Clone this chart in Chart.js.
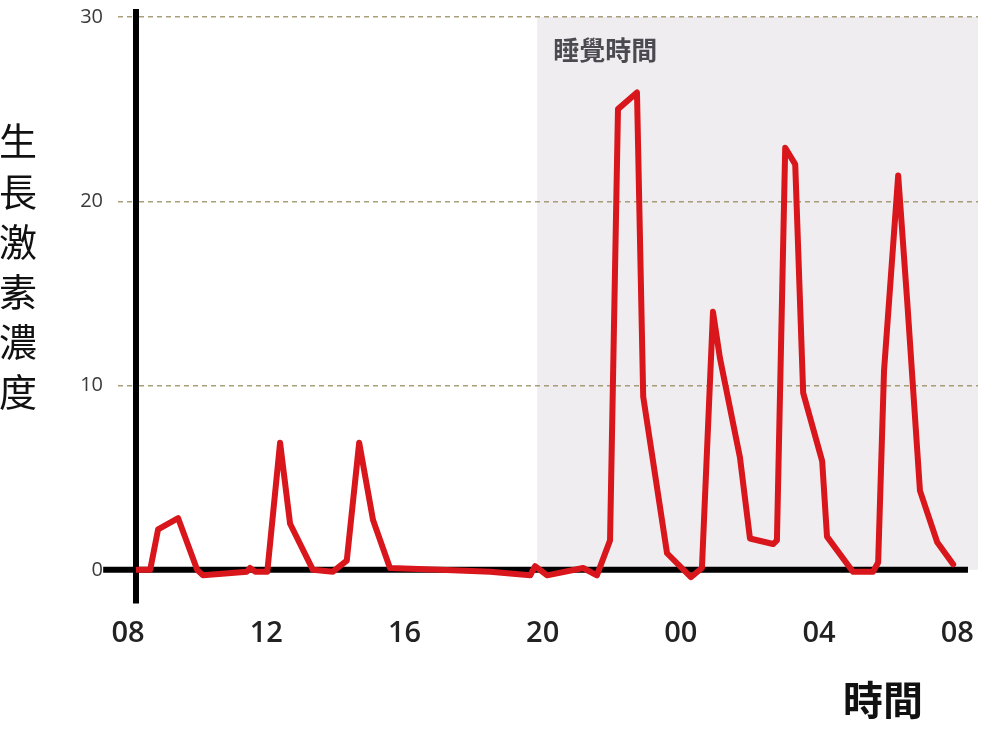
<!DOCTYPE html>
<html>
<head>
<meta charset="utf-8">
<script src="https://cdn.jsdelivr.net/npm/chart.js@4.4.1/dist/chart.umd.min.js"></script>
<style>
  html, body { margin: 0; padding: 0; background: #ffffff; }
  #wrap { width: 1000px; height: 735px; }
</style>
</head>
<body>
<div id="wrap"><canvas id="c" width="1000" height="735"></canvas></div>
<script>
// ---- data (hours after 08:00, growth-hormone level) ----
const hours = [0.26,0.64,0.87,1.45,2.00,2.17,2.81,3.44,3.53,3.68,4.03,4.40,4.69,5.35,5.93,6.33,6.69,7.09,7.58,9.03,10.48,11.64,11.78,12.13,13.17,13.57,13.95,14.18,14.73,14.91,15.60,16.29,16.61,16.93,17.13,17.71,18.00,18.67,18.78,19.02,19.31,19.54,20.09,20.23,20.98,21.56,21.71,21.88,22.29,22.55,22.92,23.42,23.88];
const values = [0,0,2.2,2.8,0,-0.3,-0.2,-0.1,0.1,-0.1,-0.1,6.9,2.5,0,-0.1,0.5,6.9,2.7,0.1,0,-0.1,-0.3,0.2,-0.3,0.1,-0.3,1.6,25.0,25.9,9.4,0.9,-0.4,0.1,14.0,11.5,6.1,1.7,1.4,1.6,22.9,22.0,9.6,5.9,1.8,-0.1,-0.1,0.4,10.8,21.4,14.6,4.3,1.5,0.3];
const xTickHours = [0,4,8,12,16,20,24];
const xTickLabels = ['08','12','16','20','00','04','08'];
const yTicks = [0,10,20,30];
const sleepBand = [11.84, 24.6];
const sleepLabel = '睡覺時間';
const yTitle = ['生','長','激','素','濃','度'];
const xTitle = '時間';

const decor = {
  id: 'decor',
  beforeDraw(chart) {
    const { ctx, scales: { x, y } } = chart;
    ctx.save();
    ctx.fillStyle = '#efedef';
    const x0 = x.getPixelForValue(sleepBand[0]);
    const x1 = x.getPixelForValue(sleepBand[1]);
    const y0 = y.getPixelForValue(30);
    const y1 = y.getPixelForValue(0);
    ctx.fillRect(x0, y0, x1 - x0, y1 - y0);
    ctx.restore();
  },
  beforeDatasetsDraw(chart) {
    const { ctx, scales: { x, y } } = chart;
    ctx.save();
    ctx.strokeStyle = '#000000';
    ctx.lineWidth = 6;
    const yz = y.getPixelForValue(0);
    ctx.beginPath();
    ctx.moveTo(x.getPixelForValue(-0.72), yz);
    ctx.lineTo(x.getPixelForValue(24.31), yz);
    ctx.stroke();
    ctx.restore();
  },
  afterDraw(chart) {
    const { ctx, scales: { x, y } } = chart;
    ctx.save();
    ctx.fillStyle = '#4a4a50';
    ctx.font = '600 26px "Noto Sans CJK TC"';
    ctx.textAlign = 'left';
    ctx.textBaseline = 'middle';
    ctx.fillText(sleepLabel, x.getPixelForValue(sleepBand[0]) + 16, 50);
    ctx.fillStyle = '#111111';
    ctx.font = '400 38px "Noto Sans CJK TC"';
    ctx.textAlign = 'center';
    yTitle.forEach((ch, i) => ctx.fillText(ch, 18, 141 + i * 50.2));
    ctx.font = '700 40px "Noto Sans CJK TC"';
    ctx.fillText(xTitle, 883, 700);
    ctx.restore();
  }
};

new Chart(document.getElementById('c'), {
  type: 'line',
  data: {
    datasets: [{
      data: hours.map((h, i) => ({ x: h, y: values[i] })),
      borderColor: '#d8161b',
      borderWidth: 6,
      pointRadius: 0,
      tension: 0,
      fill: false,
      borderJoinStyle: 'round',
      borderCapStyle: 'round'
    }]
  },
  options: {
    responsive: false,
    animation: false,
    devicePixelRatio: 1,
    layout: { padding: { left: 0, right: 22, top: 12, bottom: 0 } },
    plugins: { legend: { display: false }, tooltip: { enabled: false } },
    scales: {
      x: {
        type: 'linear',
        min: 0.23,
        max: 24.6,
        afterFit: s => { s.height = 132; s.paddingLeft = 0; s.paddingRight = 0; },
        afterBuildTicks: s => { s.ticks = xTickHours.map(v => ({ value: v })); },
        grid: { display: false, drawTicks: false },
        border: { display: false },
        ticks: {
          autoSkip: false,
          maxRotation: 0,
          padding: 13,
          color: '#222222',
          font: { family: 'Open Sans', size: 29, weight: '600' },
          callback: (v, i) => xTickLabels[i]
        }
      },
      y: {
        min: -1.8,
        max: 30.27,
        afterFit: s => { s.width = 136; s.paddingTop = 0; s.paddingBottom = 0; },
        afterBuildTicks: s => { s.ticks = yTicks.map(v => ({ value: v })); },
        grid: {
          color: ctx => ctx.tick && ctx.tick.value === 0 ? 'rgba(0,0,0,0)' : 'rgba(150,135,90,0.8)',
          tickColor: ctx => ctx.tick && ctx.tick.value === 0 ? 'rgba(0,0,0,0)' : 'rgba(150,135,90,0.8)',
          lineWidth: 1.5,
          drawTicks: true,
          tickLength: 18,
          tickBorderDash: [5, 4]
        },
        border: { display: true, color: '#000000', width: 6, dash: [5, 4] },
        ticks: {
          padding: 15,
          color: '#3a3a3a',
          font: { family: 'Open Sans', size: 20 },
          callback: v => String(v)
        }
      }
    }
  },
  plugins: [decor]
});
</script>
</body>
</html>
